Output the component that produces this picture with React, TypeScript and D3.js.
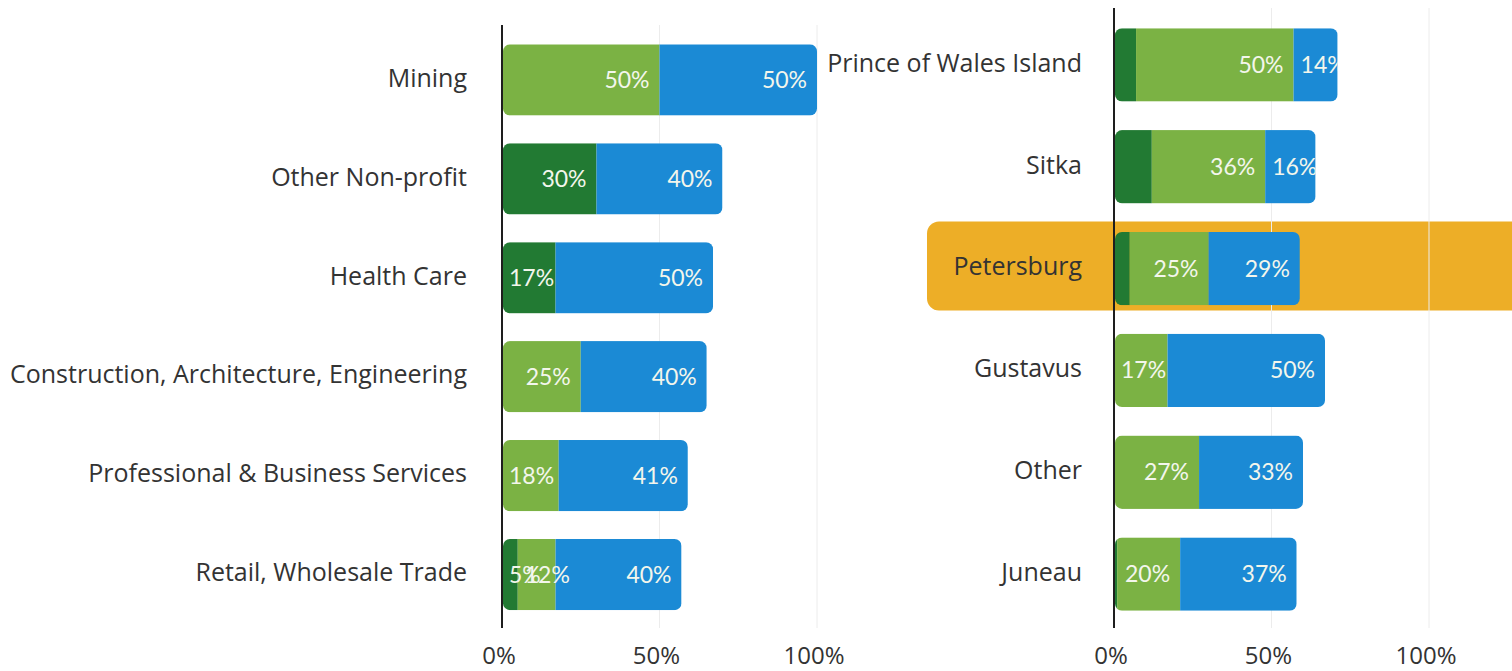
import React, { useEffect, useRef } from 'react';
import * as d3 from 'd3';

// left panel: by industry
const leftCategories = [
  'Mining',
  'Other Non-profit',
  'Health Care',
  'Construction, Architecture, Engineering',
  'Professional & Business Services',
  'Retail, Wholesale Trade',
];
const leftDark = [0, 30, 17, 0, 0, 5];
const leftLight = [50, 0, 0, 25, 18, 12];
const leftBlue = [50, 40, 50, 40, 41, 40];

// right panel: by community
const rightCategories = ['Prince of Wales Island', 'Sitka', 'Petersburg', 'Gustavus', 'Other', 'Juneau'];
const rightDark = [7, 12, 5, 0, 0, 1];
const rightLight = [50, 36, 25, 17, 27, 20];
const rightBlue = [14, 16, 29, 50, 33, 37];

const highlighted = 'Petersburg';
const tickValues = [0, 50, 100];

const COLORS = { dark: '#227a33', light: '#7bb244', blue: '#1b8ad5' };
const ORANGE = '#edae27';
const FONT = 'Lato, sans-serif';
const CAT_FONT = '"Open Sans", sans-serif';

type Panel = {
  id: string;
  cats: string[];
  dark: number[];
  light: number[];
  blue: number[];
  x0: number;
  x1: number;
  yTop: number;
  yBottom: number;
  axisTop: number;
  labelGap: number;
  darkLabels: boolean;
};

const panels: Panel[] = [
  { id: 'l', cats: leftCategories, dark: leftDark, light: leftLight, blue: leftBlue, x0: 502, x1: 817, yTop: 30.5, yBottom: 624, axisTop: 25, labelGap: 35, darkLabels: true },
  { id: 'r', cats: rightCategories, dark: rightDark, light: rightLight, blue: rightBlue, x0: 1114, x1: 1429, yTop: 14, yBottom: 625, axisTop: 8, labelGap: 32, darkLabels: false },
];

export default function App() {
  const ref = useRef<SVGSVGElement>(null);

  useEffect(() => {
    document.body.style.margin = '0';
    const svg = d3.select(ref.current);
    svg.selectAll('*').remove();

    panels.forEach((p) => {
      const x = d3.scaleLinear().domain([0, 100]).range([p.x0, p.x1]);
      const y = d3.scaleBand().domain(p.cats).range([p.yTop, p.yBottom]).paddingInner(0.28).paddingOuter(0.14);
      const g = svg.append('g');

      // highlight band
      p.cats.forEach((c) => {
        if (c !== highlighted) return;
        g.append('rect')
          .attr('x', 927)
          .attr('y', y(c)! + y.bandwidth() / 2 - 47)
          .attr('width', 620)
          .attr('height', 89)
          .attr('rx', 12)
          .attr('fill', ORANGE);
      });

      // grid lines
      g.selectAll('.grid')
        .data(tickValues.slice(1))
        .enter()
        .append('line')
        .attr('x1', (d) => x(d))
        .attr('x2', (d) => x(d))
        .attr('y1', p.axisTop)
        .attr('y2', 628)
        .attr('stroke', '#ececec')
        .attr('stroke-width', 1);

      // category labels
      g.selectAll('.cat')
        .data(p.cats)
        .enter()
        .append('text')
        .attr('x', p.x0 - p.labelGap)
        .attr('y', (d) => y(d)! + y.bandwidth() / 2 - 2)
        .attr('dy', '0.35em')
        .attr('text-anchor', 'end')
        .attr('font-family', CAT_FONT)
        .attr('font-size', 25)
        .attr('fill', '#333')
        .text((d) => d);

      p.cats.forEach((c, i) => {
        const segs = [
          { v: p.dark[i], color: COLORS.dark, label: p.darkLabels },
          { v: p.light[i], color: COLORS.light, label: true },
          { v: p.blue[i], color: COLORS.blue, label: true },
        ];
        const total = d3.sum(segs, (s) => s.v);
        const by = y(c)!;
        const bh = y.bandwidth();
        const clipId = `clip-${p.id}-${i}`;
        g.append('clipPath')
          .attr('id', clipId)
          .append('rect')
          .attr('x', x(0) + 1)
          .attr('y', by)
          .attr('width', x(total) - x(0) - 1)
          .attr('height', bh)
          .attr('rx', 7);

        const bar = g.append('g').attr('clip-path', `url(#${clipId})`);
        let acc = 0;
        segs.forEach((s) => {
          if (s.v > 0) {
            bar.append('rect')
              .attr('x', x(acc))
              .attr('y', by)
              .attr('width', x(acc + s.v) - x(acc))
              .attr('height', bh)
              .attr('fill', s.color);
          }
          acc += s.v;
        });

        acc = 0;
        segs.forEach((s) => {
          const start = x(acc);
          const end = x(acc + s.v);
          acc += s.v;
          if (s.v <= 0 || !s.label) return;
          const t = bar.append('text')
            .attr('y', by + bh / 2)
            .attr('dy', '0.35em')
            .attr('font-family', FONT)
            .attr('font-size', 23)
            .attr('fill', '#f3f6ec')
            .text(`${s.v}%`);
          const w = (t.node() as SVGTextElement).getComputedTextLength();
          t.attr('x', Math.max(start + 7, end - 10 - w));
        });
      });

      // axis line
      g.append('line')
        .attr('x1', x(0))
        .attr('x2', x(0))
        .attr('y1', p.axisTop)
        .attr('y2', 628)
        .attr('stroke', '#1e1e1e')
        .attr('stroke-width', 2);

      // tick labels
      g.selectAll('.tick')
        .data(tickValues)
        .enter()
        .append('text')
        .attr('x', (d) => x(d) - 3)
        .attr('y', 656)
        .attr('dy', '0.35em')
        .attr('text-anchor', 'middle')
        .attr('font-family', CAT_FONT)
        .attr('font-size', 24)
        .attr('fill', '#333')
        .text((d) => `${d}%`);
    });
  }, []);

  return <svg ref={ref} width={1512} height={671} style={{ display: 'block', background: '#fff' }} />;
}
